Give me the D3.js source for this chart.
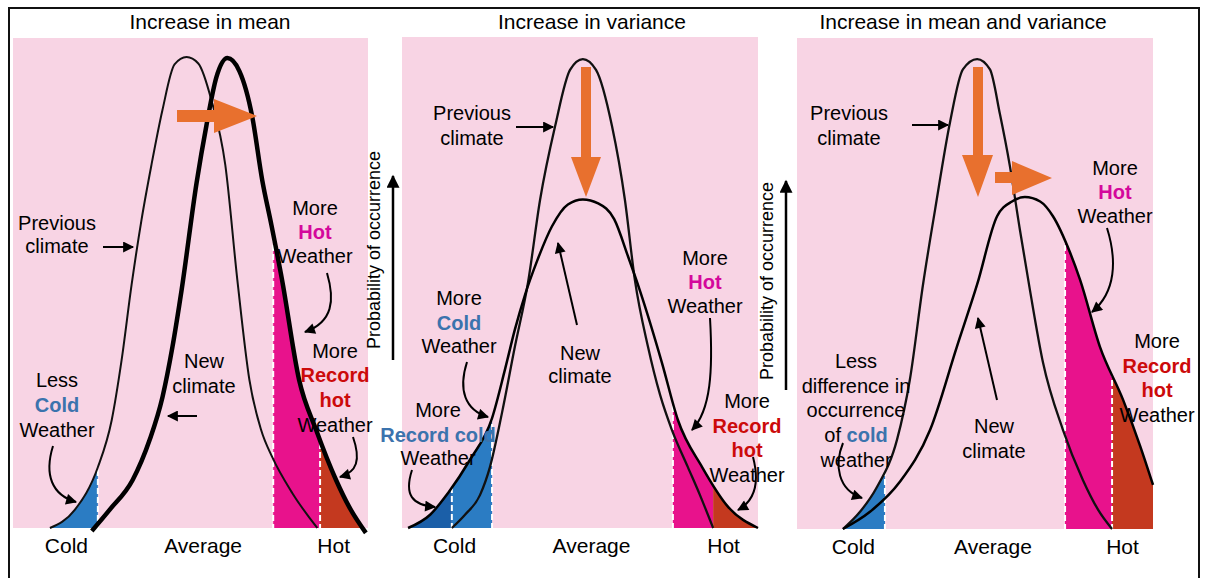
<!DOCTYPE html>
<html>
<head>
<meta charset="utf-8">
<title>Increase in mean and variance</title>
<script src="https://cdn.jsdelivr.net/npm/d3@7"></script>
<style>
  body { margin: 0; background: #fff; }
  text { font-family: "Liberation Sans", Arial, sans-serif; }
</style>
</head>
<body>
<svg id="fig" width="1206" height="578"></svg>
<script>
// ---------------- data ----------------
// temperature runs 0..100 across each panel, probability 0..100 up each panel
var panelTitles = ["Increase in mean", "Increase in variance", "Increase in mean and variance"];
var xTickLabels = ["Cold", "Average", "Hot"];
var tickTemps = [[14.9, 53.4, 90.2], [14.6, 53.1, 90.2], [15.7, 54.9, 91.3]];
var yAxisLabel = "Probability of occurrence";

// panel 1 : increase in mean
var meanPrevious = [[10.4,0],[17.4,3.7],[23.9,12.4],[27.8,22.0],[30.6,34.3],[33.4,49.6],[36.2,62.9],
  [39.0,74.1],[42.1,85.3],[45.5,94.6],[48.9,96.1],[52.2,94.8],[55.9,87.3],[59.8,74.1],[63.2,50.6],
  [66.6,30.2],[69.9,20.0],[73.0,14.5],[78.7,7.1],[85.7,0]];
var meanNew = [[22.2,-0.6],[27.2,3.7],[33.7,9.8],[38.5,18.0],[42.1,26.7],[44.9,36.9],[47.5,48.6],
  [51.7,70.4],[54.5,82.2],[57.3,92.0],[60.4,95.9],[63.8,93.2],[67.4,83.9],[70.2,71.0],[72.8,61.8],
  [75.8,50.6],[80.6,30.2],[85.4,20.0],[91.0,9.8],[94.7,4.3],[99.4,-1.0]];

// panel 2 : increase in variance
var varPrevious = [[14.0,0],[17.7,2.7],[21.9,6.7],[24.7,12.4],[28.1,23.5],[31.7,36.9],[35.4,50.0],
  [38.8,66.9],[43.0,81.8],[47.2,93.3],[50.8,95.5],[54.5,93.3],[59.0,81.8],[62.6,66.9],[65.4,50.6],
  [69.1,36.9],[72.5,27.1],[75.8,20.0],[80.3,12.4],[83.7,6.7],[87.4,0]];
var varNew = [[1.7,0],[7.9,2.7],[12.9,7.1],[19.1,13.9],[25.3,22.4],[28.9,32.2],[31.7,40.4],[34.6,47.6],
  [37.9,54.3],[42.1,61.4],[46.6,65.9],[50.8,66.9],[55.1,66.1],[59.6,62.9],[63.5,55.3],[66.9,48.2],
  [73.0,33.7],[77.5,22.0],[84.3,12.4],[91.6,4.3],[100,0]];

// panel 3 : increase in mean and variance
var bothPrevious = [[12.9,0],[17.7,3.5],[22.5,8.6],[28.1,18.2],[31.7,30.4],[35.4,49.8],[38.8,65.1],
  [43.0,82.9],[46.6,93.6],[50.6,95.7],[54.2,93.6],[57.0,84.5],[59.8,73.9],[62.6,61.0],[65.4,48.8],
  [69.1,33.9],[74.7,20.2],[80.3,10.0],[84.6,3.9],[88.5,0]];
var bothNew = [[12.9,0],[20.5,3.5],[28.9,9.6],[37.4,20.2],[44.9,37.1],[50.6,49.8],[56.2,63.7],
  [60.4,66.7],[64.0,67.6],[68.3,66.7],[71.9,63.7],[76.7,56.3],[79.5,50.8],[85.1,37.1],[91.6,26.3],
  [96.3,17.1],[100,9.0]];

// shaded tails: from, to, kind, curve
var meanTails = [[10.4,23.9,"cold","prev"],[73.3,86.5,"hot","new"],[86.5,100,"recordHot","new"]];
var varTails = [[1.7,14.0,"recordCold","new"],[14.0,25.3,"cold","new"],[76.1,87.4,"hot","new"],[87.4,100,"recordHot","new"]];
var bothTails = [[12.9,24.7,"cold","prev"],[75.3,88.5,"hot","new"],[88.5,100,"recordHot","new"]];

// thresholds marked with dashed lines: temperature, curve
var meanEdges = [[23.9,"prev"],[73.3,"new"],[86.5,"new"]];
var varEdges = [[14.0,"new"],[25.3,"new"],[76.1,"new"]];
var bothEdges = [[24.7,"prev"],[75.3,"new"],[88.5,"new"]];

// ---------------- styles ----------------
var pink = "#f8d4e4";
var tailColors = { cold: "#2b7cc3", recordCold: "#1b5fa8", hot: "#e8128c", recordHot: "#c4391f" };
var textColors = { hot: "#d4089c", rec: "#cc0a0a", cold: "#3b73ad" };
var orange = "#e8702e";

var panels = [
  { left: 13, right: 368, top: 38, base: 528, titleX: 210, prev: meanPrevious, next: meanNew,
    tails: meanTails, edges: meanEdges, prevW: 2, newW: 4.5 },
  { left: 402, right: 758, top: 37, base: 528, titleX: 592, prev: varPrevious, next: varNew,
    tails: varTails, edges: varEdges, prevW: 2.3, newW: 2.5 },
  { left: 797, right: 1153, top: 38, base: 529, titleX: 963, prev: bothPrevious, next: bothNew,
    tails: bothTails, edges: bothEdges, prevW: 2.3, newW: 2.5 }
];

var svg = d3.select("#fig");
var defs = svg.append("defs");
function marker(id, w, h) {
  defs.append("marker")
      .attr("id", id)
      .attr("viewBox", "0 0 10 10")
      .attr("refX", 9).attr("refY", 5)
      .attr("markerUnits", "userSpaceOnUse")
      .attr("markerWidth", w).attr("markerHeight", h)
      .attr("orient", "auto")
    .append("path").attr("d", "M0,0L10,5L0,10z").attr("fill", "#000");
}
marker("head", 13, 11);
marker("bighead", 20, 13);

// frame
svg.append("path")
    .attr("d", "M9,578V8H1199V578")
    .attr("fill", "none").attr("stroke", "#111").attr("stroke-width", 2);

panels.forEach(function(p, i) {
  var x = d3.scaleLinear().domain([0, 100]).range([p.left, p.right]);
  var y = d3.scaleLinear().domain([0, 100]).range([p.base, p.top]);
  var curve = d3.curveMonotoneX;
  var line = d3.line().x(function(d) { return x(d[0]); }).y(function(d) { return y(d[1]); }).curve(curve);
  var area = d3.area().x(function(d) { return x(d[0]); }).y0(y(0)).y1(function(d) { return y(d[1]); }).curve(curve);
  var curves = { prev: p.prev, "new": p.next };
  var g = svg.append("g");

  g.append("rect")
      .attr("x", p.left).attr("y", p.top)
      .attr("width", p.right - p.left).attr("height", p.base - p.top)
      .attr("fill", pink);

  // tails under the curves
  p.tails.forEach(function(t, j) {
    var id = "tail" + i + "_" + j;
    defs.append("clipPath").attr("id", id).append("rect")
        .attr("x", x(t[0])).attr("y", p.top)
        .attr("width", x(t[1]) - x(t[0])).attr("height", p.base - p.top);
    g.append("path")
        .attr("d", area(curves[t[3]]))
        .attr("fill", tailColors[t[2]])
        .attr("clip-path", "url(#" + id + ")");
  });

  // dashed threshold lines, cut by the curve
  ["prev", "new"].forEach(function(k) {
    defs.append("clipPath").attr("id", "under" + i + k)
      .append("path").attr("d", area(curves[k]));
  });
  p.edges.forEach(function(e) {
    g.append("line")
        .attr("x1", x(e[0])).attr("x2", x(e[0]))
        .attr("y1", p.top).attr("y2", p.base)
        .attr("stroke", "#fff").attr("stroke-width", 2)
        .attr("stroke-dasharray", "6,3")
        .attr("clip-path", "url(#under" + i + e[1] + ")");
  });

  g.append("path").attr("d", line(p.prev))
      .attr("fill", "none").attr("stroke", "#111").attr("stroke-width", p.prevW);
  g.append("path").attr("d", line(p.next))
      .attr("fill", "none").attr("stroke", "#000").attr("stroke-width", p.newW);

  var ax = g.append("g")
      .attr("transform", "translate(0," + p.base + ")")
      .call(d3.axisBottom(x).tickValues(tickTemps[i])
        .tickFormat(function(d, k) { return xTickLabels[k]; })
        .tickSize(0).tickPadding(10));
  ax.select(".domain").remove();
  ax.selectAll("text")
      .attr("font-size", 21)
      .attr("font-family", "Liberation Sans, Arial, sans-serif")
      .attr("fill", "#000");

  svg.append("text")
      .attr("x", p.titleX).attr("y", 29)
      .attr("text-anchor", "middle")
      .attr("font-size", 21)
      .text(panelTitles[i]);
});

// y axis labels with arrows
[[380, 250, 393, 360, 176], [773, 281, 786, 390, 181]].forEach(function(a) {
  svg.append("text")
      .attr("transform", "translate(" + a[0] + "," + a[1] + ") rotate(-90)")
      .attr("text-anchor", "middle")
      .attr("font-size", 18)
      .text(yAxisLabel);
  svg.append("line")
      .attr("x1", a[2]).attr("x2", a[2]).attr("y1", a[3]).attr("y2", a[4])
      .attr("stroke", "#000").attr("stroke-width", 2.5)
      .attr("marker-end", "url(#bighead)");
});

// orange shift arrows
var arrows = [
  "M177,110H214V99L257,116L214,133V122H177Z",
  "M581,67H591V157H601L586,197L571,157H581Z",
  "M973,67H983V155H993L978,197L962,155H973Z",
  "M995,172H1012V161L1052,178L1012,195V183H995Z"
];
svg.selectAll(".shift").data(arrows).enter().append("path")
    .attr("class", "shift").attr("d", function(d) { return d; })
    .attr("fill", orange);

// black pointer arrows
var pointers = [
  "M103,247H133", "M197,416H168",
  "M327,273C335,300 333,322 305,332", "M353,437C361,460 357,472 340,477", "M53,446C44,475 52,495 76,502",
  "M516,127H553", "M577,325L558,243",
  "M710,318C713,370 711,410 692,430", "M467,362C458,390 465,410 488,417",
  "M412,470C404,495 412,505 435,507", "M753,457C759,480 756,500 738,510",
  "M912,125H948", "M997,400L978,318",
  "M1107,228C1117,260 1116,292 1092,312", "M843,443C834,465 838,490 862,498"
];
svg.selectAll(".pointer").data(pointers).enter().append("path")
    .attr("class", "pointer").attr("d", function(d) { return d; })
    .attr("fill", "none").attr("stroke", "#000").attr("stroke-width", 2)
    .attr("marker-end", "url(#head)");

// annotation text: centre x, then lines of [text, baseline, colour kind]
var notes = [
  [57, [["Previous",230],["climate",253]]],
  [315, [["More",215],["Hot",239,"hot"],["Weather",263]]],
  [335, [["More",358],["Record",382,"rec"],["hot",407,"rec"],["Weather",432]]],
  [204, [["New",368],["climate",393]]],
  [57, [["Less",387],["Cold",412,"cold"],["Weather",437]]],
  [472, [["Previous",120],["climate",145]]],
  [705, [["More",265],["Hot",289,"hot"],["Weather",313]]],
  [580, [["New",360],["climate",383]]],
  [459, [["More",305],["Cold",330,"cold"],["Weather",353]]],
  [438, [["More",417],["Record cold",442,"cold"],["Weather",465]]],
  [747, [["More",408],["Record",433,"rec"],["hot",457,"rec"],["Weather",482]]],
  [849, [["Previous",120],["climate",145]]],
  [1115, [["More",175],["Hot",199,"hot"],["Weather",223]]],
  [1157, [["More",348],["Record",373,"rec"],["hot",397,"rec"],["Weather",422]]],
  [994, [["New",433],["climate",458]]],
  [856, [["Less",368],["difference in",393],["occurrence",417],["of |cold",442,"cold"],["weather",467]]]
];
notes.forEach(function(n) {
  n[1].forEach(function(l) {
    var t = svg.append("text")
        .attr("x", n[0]).attr("y", l[1])
        .attr("text-anchor", "middle")
        .attr("font-size", 20);
    var parts = l[0].split("|");
    parts.forEach(function(s, k) {
      var coloured = l[2] && (parts.length == 1 || k == 1);
      t.append("tspan").text(s)
          .attr("fill", coloured ? textColors[l[2]] : "#000")
          .attr("font-weight", coloured ? "bold" : null);
    });
  });
});
</script>
</body>
</html>
